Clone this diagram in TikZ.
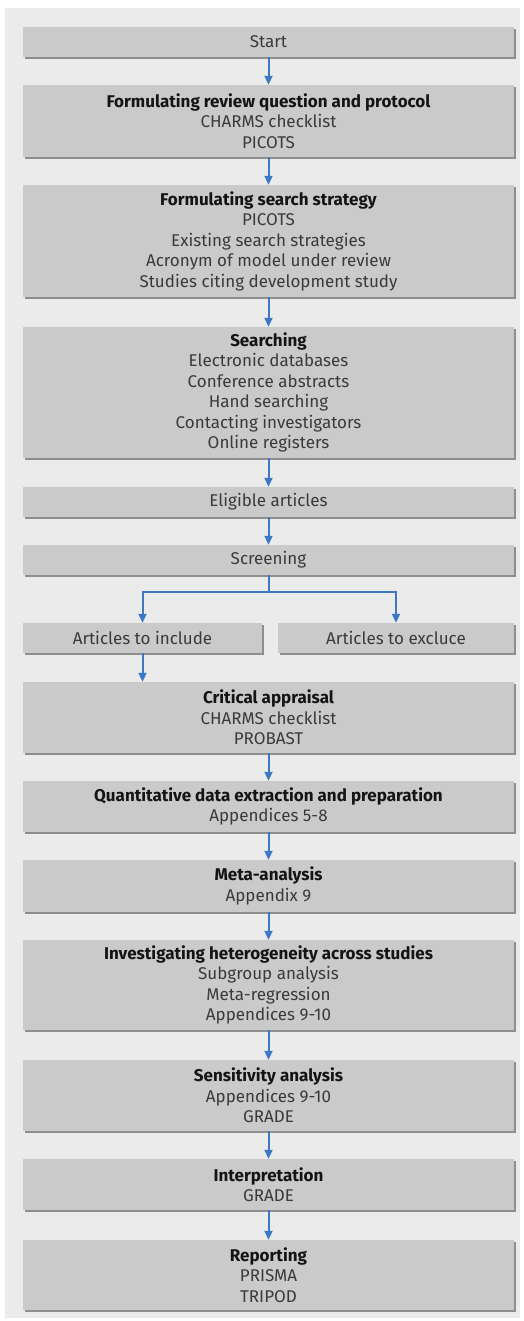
\documentclass[tikz,border=0pt]{standalone}
\usepackage{fontspec}
\setmainfont{Fira Sans}
\usetikzlibrary{arrows.meta,shadows}
\definecolor{panel}{HTML}{EBEBEB}
\definecolor{boxfill}{HTML}{CACACA}
\definecolor{shad}{HTML}{8E8E8E}
\definecolor{arrblue}{HTML}{3C78C3}
\definecolor{txt}{HTML}{3A3A3A}
\definecolor{ttl}{HTML}{141414}
\tikzset{
  stepbox/.style={rectangle, fill=boxfill, inner sep=0pt, align=center,
    text=txt, font=\fontsize{17}{20.5}\selectfont,
    drop shadow={shadow xshift=1.5pt, shadow yshift=-2pt, fill=shad, opacity=1}},
  fullw/.style={minimum width=491pt},
  arr/.style={draw=arrblue, line width=2pt, -{Triangle[width=8pt,length=9pt]}},
  conn/.style={draw=arrblue, line width=2pt},
}
\newcommand{\ttlx}[1]{\textcolor{ttl}{\textbf{#1}}}
\begin{document}
\begin{tikzpicture}[x=1pt,y=-1pt]
\useasboundingbox (0,0) rectangle (524,1321);
\fill[white] (0,0) rectangle (524,1321);
\fill[panel] (5,8) rectangle (520,1318);
\node[stepbox,fullw,minimum height=30pt] (start) at (268.5,42) {Start};
\node[stepbox,fullw,minimum height=72pt] (q) at (268.5,121) {\ttlx{Formulating review question and protocol}\\CHARMS checklist\\PICOTS};
\node[stepbox,fullw,minimum height=112pt] (ss) at (268.5,241) {\ttlx{Formulating search strategy}\\PICOTS\\Existing search strategies\\Acronym of model under review\\Studies citing development study};
\node[stepbox,fullw,minimum height=131pt] (srch) at (268.5,392.5) {\ttlx{Searching}\\Electronic databases\\Conference abstracts\\Hand searching\\Contacting investigators\\Online registers};
\node[stepbox,fullw,minimum height=30pt] (elig) at (268.5,502) {Eligible articles};
\node[stepbox,fullw,minimum height=30pt] (scr) at (268.5,560) {Screening};
\node[stepbox,minimum width=239pt,minimum height=30pt] (inc) at (142.5,638) {Articles to include};
\node[stepbox,minimum width=236pt,minimum height=30pt] (exc) at (396,638) {Articles to excluce};
\node[stepbox,fullw,minimum height=71pt] (crit) at (268.5,717.5) {\ttlx{Critical appraisal}\\CHARMS checklist\\PROBAST};
\node[stepbox,fullw,minimum height=51pt] (quant) at (268.5,806.5) {\ttlx{Quantitative data extraction and preparation}\\Appendices 5-8};
\node[stepbox,fullw,minimum height=52pt] (meta) at (268.5,886) {\ttlx{Meta-analysis}\\Appendix 9};
\node[stepbox,fullw,minimum height=90pt] (het) at (268.5,985) {\ttlx{Investigating heterogeneity across studies}\\Subgroup analysis\\Meta-regression\\Appendices 9-10};
\node[stepbox,fullw,minimum height=71pt] (sens) at (268.5,1095.5) {\ttlx{Sensitivity analysis}\\Appendices 9-10\\GRADE};
\node[stepbox,fullw,minimum height=51pt] (interp) at (268.5,1184.5) {\ttlx{Interpretation}\\GRADE};
\node[stepbox,fullw,minimum height=70pt] (rep) at (268.5,1275) {\ttlx{Reporting}\\PRISMA\\TRIPOD};
\draw[arr] (start) -- (q);
\draw[arr] (q) -- (ss);
\draw[arr] (ss) -- (srch);
\draw[arr] (srch) -- (elig);
\draw[arr] (elig) -- (scr);
\draw[conn] (scr.south) -- ++(0,17) coordinate (br);
\draw[arr] (br) -| (inc.north);
\draw[arr] (br) -| (exc.north);
\draw[arr] (inc.south) -- (inc.south |- crit.north);
\draw[arr] (crit) -- (quant);
\draw[arr] (quant) -- (meta);
\draw[arr] (meta) -- (het);
\draw[arr] (het) -- (sens);
\draw[arr] (sens) -- (interp);
\draw[arr] (interp) -- (rep);
\end{tikzpicture}
\end{document}
